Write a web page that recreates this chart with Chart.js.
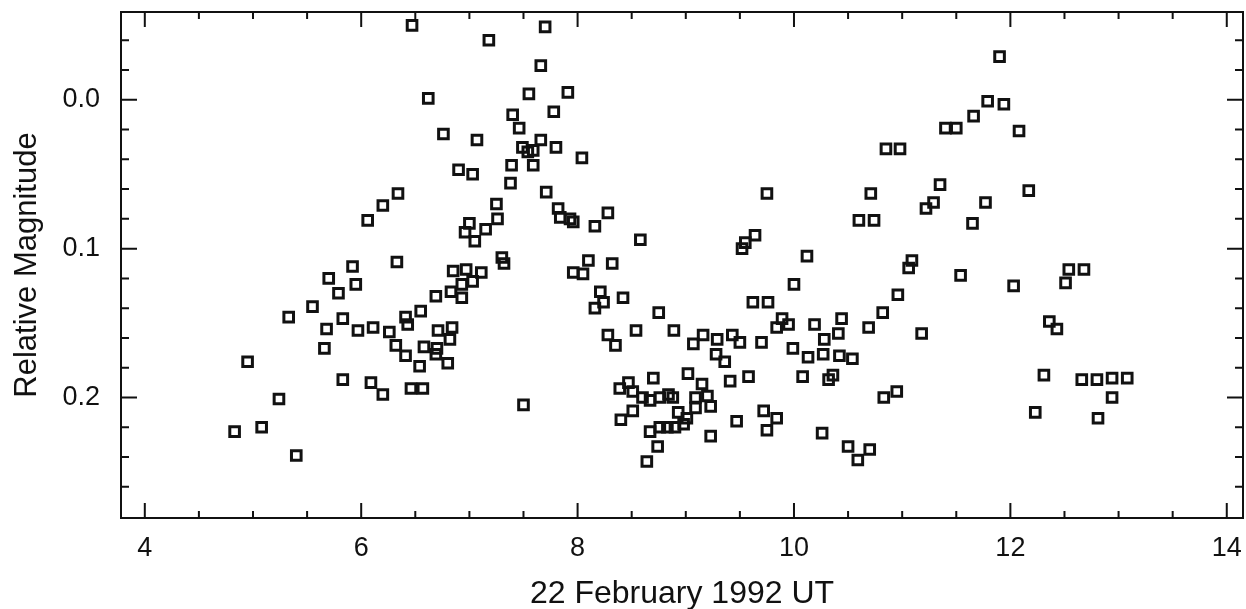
<!DOCTYPE html>
<html>
<head>
<meta charset="utf-8">
<script src="https://cdn.jsdelivr.net/npm/chart.js@4.4.1/dist/chart.umd.min.js"></script>
<style>
  html, body { margin: 0; padding: 0; background: #fff; }
  canvas { display: block; }
</style>
</head>
<body>
<canvas id="lightCurve" width="1246" height="609"></canvas>
<script>
// UT hours, 22 February 1992
const utHours = [
    4.83, 4.95, 5.08, 5.24, 5.33, 5.40, 5.55, 5.66, 5.68, 5.70,
    5.79, 5.83, 5.83, 5.92, 5.95, 5.97, 6.06, 6.09, 6.11, 6.20,
    6.20, 6.26, 6.32, 6.33, 6.34, 6.41, 6.41, 6.43, 6.46, 6.47,
    6.54, 6.55, 6.57, 6.58, 6.62, 6.69, 6.69, 6.70, 6.71, 6.76,
    6.80, 6.82, 6.83, 6.84, 6.85, 6.90, 6.93, 6.93, 6.96, 6.97,
    7.00, 7.03, 7.03, 7.05, 7.07, 7.11, 7.15, 7.18, 7.25, 7.26,
    7.30, 7.32, 7.38, 7.39, 7.40, 7.46, 7.49, 7.50, 7.54, 7.55,
    7.59, 7.59, 7.66, 7.66, 7.70, 7.71, 7.78, 7.80, 7.82, 7.84,
    7.91, 7.93, 7.96, 7.96, 8.04, 8.05, 8.10, 8.16, 8.16, 8.21,
    8.24, 8.28, 8.28, 8.32, 8.35, 8.39, 8.40, 8.42, 8.47, 8.51,
    8.51, 8.54, 8.58, 8.60, 8.64, 8.67, 8.67, 8.70, 8.74, 8.75,
    8.76, 8.76, 8.83, 8.84, 8.88, 8.89, 8.90, 8.93, 8.98, 9.01,
    9.02, 9.07, 9.09, 9.09, 9.15, 9.16, 9.20, 9.23, 9.23, 9.28,
    9.29, 9.36, 9.41, 9.43, 9.47, 9.50, 9.52, 9.55, 9.58, 9.62,
    9.64, 9.70, 9.72, 9.75, 9.75, 9.76, 9.84, 9.84, 9.89, 9.95,
    9.99, 10.00, 10.08, 10.12, 10.13, 10.19, 10.26, 10.28, 10.27, 10.32,
    10.36, 10.41, 10.42, 10.44, 10.50, 10.54, 10.59, 10.60, 10.69, 10.70,
    10.71, 10.74, 10.82, 10.83, 10.85, 10.95, 10.96, 10.98, 11.06, 11.09,
    11.18, 11.22, 11.29, 11.35, 11.40, 11.50, 11.54, 11.65, 11.66, 11.77,
    11.79, 11.90, 11.94, 12.03, 12.08, 12.17, 12.23, 12.31, 12.36, 12.43,
    12.51, 12.54, 12.66, 12.68, 12.80, 12.81, 12.94, 12.94, 13.08
]

const relMag = [
    0.223, 0.176, 0.220, 0.201, 0.146, 0.239, 0.139, 0.167, 0.154, 0.120,
    0.130, 0.147, 0.188, 0.112, 0.124, 0.155, 0.081, 0.190, 0.153, 0.071,
    0.198, 0.156, 0.165, 0.109, 0.063, 0.146, 0.172, 0.151, 0.194, -0.050,
    0.179, 0.142, 0.194, 0.166, -0.001, 0.132, 0.171, 0.167, 0.155, 0.023,
    0.177, 0.161, 0.129, 0.153, 0.115, 0.047, 0.124, 0.133, 0.089, 0.114,
    0.083, 0.050, 0.122, 0.095, 0.027, 0.116, 0.087, -0.040, 0.070, 0.080,
    0.106, 0.110, 0.056, 0.044, 0.010, 0.019, 0.032, 0.205, 0.035, -0.004,
    0.034, 0.044, -0.023, 0.027, -0.049, 0.062, 0.008, 0.032, 0.073, 0.079,
    -0.005, 0.080, 0.082, 0.116, 0.039, 0.117, 0.108, 0.085, 0.140, 0.129,
    0.136, 0.076, 0.158, 0.110, 0.165, 0.194, 0.215, 0.133, 0.190, 0.196,
    0.209, 0.155, 0.094, 0.200, 0.243, 0.202, 0.223, 0.187, 0.233, 0.143,
    0.200, 0.220, 0.220, 0.198, 0.200, 0.155, 0.220, 0.210, 0.218, 0.214,
    0.184, 0.164, 0.200, 0.207, 0.191, 0.158, 0.199, 0.206, 0.226, 0.171,
    0.161, 0.176, 0.189, 0.158, 0.216, 0.163, 0.100, 0.096, 0.186, 0.136,
    0.091, 0.163, 0.209, 0.222, 0.063, 0.136, 0.153, 0.214, 0.147, 0.151,
    0.167, 0.124, 0.186, 0.105, 0.173, 0.151, 0.224, 0.161, 0.171, 0.188,
    0.185, 0.157, 0.172, 0.147, 0.233, 0.174, 0.242, 0.081, 0.153, 0.235,
    0.063, 0.081, 0.143, 0.200, 0.033, 0.196, 0.131, 0.033, 0.113, 0.108,
    0.157, 0.073, 0.069, 0.057, 0.019, 0.019, 0.118, 0.083, 0.011, 0.069,
    0.001, -0.029, 0.003, 0.125, 0.021, 0.061, 0.210, 0.185, 0.149, 0.154,
    0.123, 0.114, 0.188, 0.114, 0.188, 0.214, 0.187, 0.200, 0.187
]

const xTickLabels = [4, 6, 8, 10, 12, 14]
const yTickLabels = [0.0, 0.1, 0.2]
const xMinorStep = 0.5
const yMinorStep = 0.02

const fontFamily = '"Liberation Sans", Arial, Helvetica, sans-serif'
const ink = '#111'

// frame box + inward ticks on all four sides
const frameTicks = {
    id: 'frameTicks',
    afterDraw(chart) {
        const { ctx, chartArea: a, scales: { x, y } } = chart
        ctx.save()
        ctx.strokeStyle = ink
        ctx.lineWidth = 2
        ctx.strokeRect(a.left, a.top, a.right - a.left, a.bottom - a.top)
        ctx.beginPath()
        for (let i = Math.ceil(x.min / xMinorStep); i * xMinorStep <= x.max; i++) {
            const v = i * xMinorStep
            const px = x.getPixelForValue(v)
            if (px < a.left + 3 || px > a.right - 3) continue
            const len = xTickLabels.some(t => Math.abs(t - v) < 1e-6) ? 15 : 7
            ctx.moveTo(px, a.bottom); ctx.lineTo(px, a.bottom - len)
            ctx.moveTo(px, a.top); ctx.lineTo(px, a.top + len)
        }
        for (let i = Math.ceil(y.min / yMinorStep); i * yMinorStep <= y.max; i++) {
            const v = i * yMinorStep
            const py = y.getPixelForValue(v)
            if (py < a.top + 3 || py > a.bottom - 3) continue
            const len = yTickLabels.some(t => Math.abs(t - v) < 1e-6) ? 16 : 8
            ctx.moveTo(a.left, py); ctx.lineTo(a.left + len, py)
            ctx.moveTo(a.right, py); ctx.lineTo(a.right - len, py)
        }
        ctx.stroke()
        ctx.restore()
    }
}

const ctx = document.getElementById('lightCurve').getContext('2d')
const lightCurve = new Chart(ctx, {
    type: 'scatter',
    data: {
        datasets: [{
            data: utHours.map((t, i) => ({ x: t, y: relMag[i] })),
            pointStyle: 'rect',
            pointRadius: 6.8,
            pointBorderWidth: 3,
            borderColor: ink,
            backgroundColor: 'rgba(0,0,0,0)'
        }]
    },
    options: {
        responsive: false,
        animation: false,
        devicePixelRatio: 1,
        layout: { autoPadding: false, padding: { top: 12, right: 3, left: 0, bottom: 0 } },
        plugins: { legend: { display: false }, tooltip: { enabled: false } },
        scales: {
            x: {
                type: 'linear',
                min: 3.78,
                max: 14.15,
                afterBuildTicks: s => { s.ticks = xTickLabels.map(v => ({ value: v })) },
                afterFit: s => {
                    s.height = 91
                    s.paddingLeft = 0
                    s.paddingRight = 0
                },
                grid: { display: false, drawTicks: false },
                border: { display: false },
                ticks: {
                    padding: 14,
                    color: ink,
                    maxRotation: 0,
                    autoSkip: false,
                    font: { family: fontFamily, size: 27 },
                    callback: v => String(v)
                },
                title: {
                    display: true,
                    text: '22 February 1992 UT',
                    color: ink,
                    font: { family: fontFamily, size: 32, lineHeight: 1 },
                    padding: { top: 0, bottom: -1 }
                }
            },
            y: {
                type: 'linear',
                reverse: true,
                min: -0.059,
                max: 0.281,
                afterBuildTicks: s => { s.ticks = yTickLabels.map(v => ({ value: v })) },
                afterFit: s => {
                    s.width = 121
                    s.paddingTop = 0
                    s.paddingBottom = 0
                },
                grid: { display: false, drawTicks: false },
                border: { display: false },
                ticks: {
                    padding: 21,
                    color: ink,
                    autoSkip: false,
                    font: { family: fontFamily, size: 27 },
                    callback: v => v.toFixed(1)
                },
                title: {
                    display: true,
                    text: 'Relative Magnitude',
                    color: ink,
                    font: { family: fontFamily, size: 31, lineHeight: 1 },
                    padding: { top: 12, bottom: 0 }
                }
            }
        }
    },
    plugins: [frameTicks]
})
</script>
</body>
</html>
